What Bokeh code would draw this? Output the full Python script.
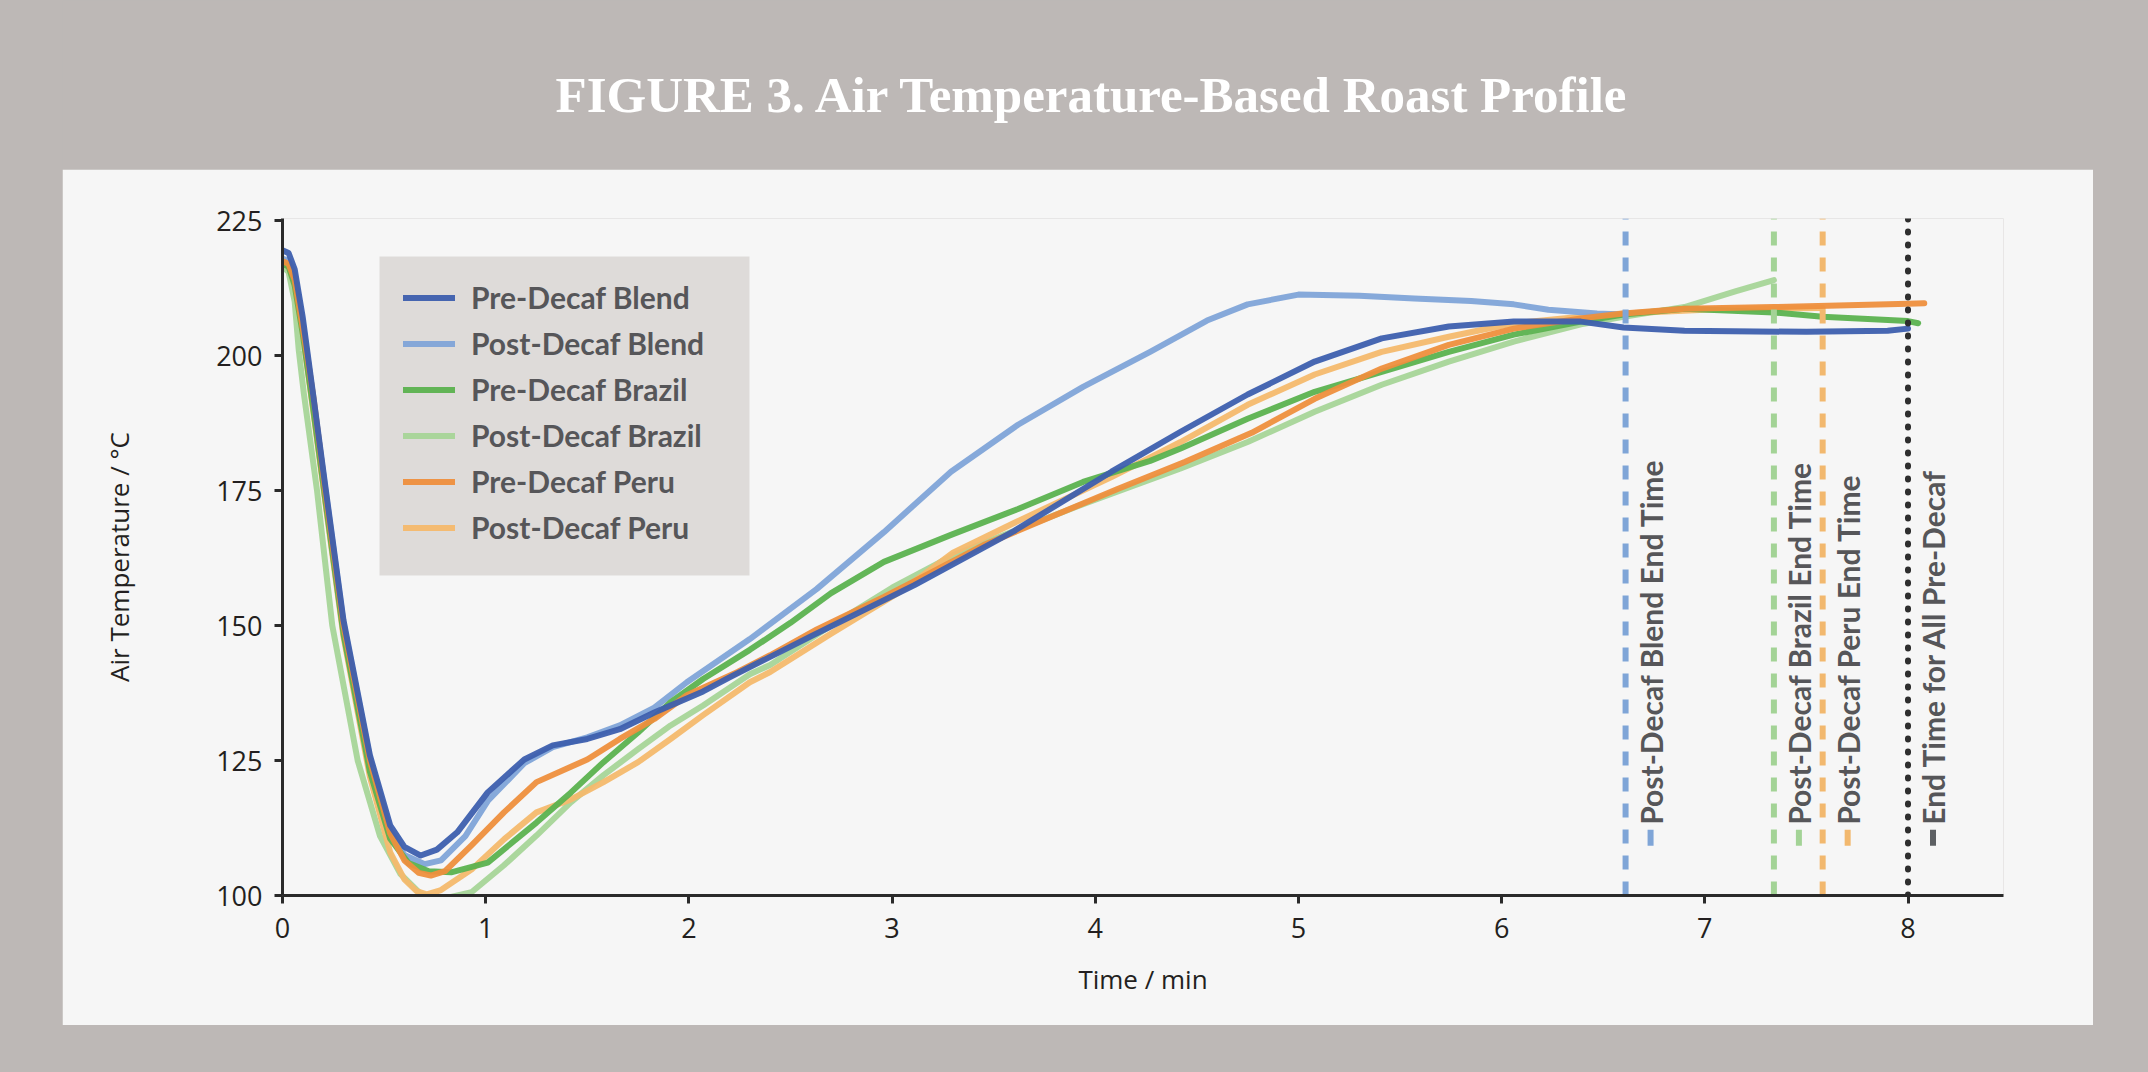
import math
from bokeh.plotting import figure
from bokeh.models import Range1d, FixedTicker, Legend, LegendItem
from bokeh.layouts import column
from bokeh.core.properties import value
from bokeh.embed import file_html
from bokeh.resources import INLINE

# ---------------- data ----------------
TITLE = "FIGURE 3. Air Temperature-Based Roast Profile"
X_LABEL = "Time / min"
Y_LABEL = "Air Temperature / °C"
X_TICKS = [0, 1, 2, 3, 4, 5, 6, 7, 8]
Y_TICKS = [100, 125, 150, 175, 200, 225]

PRE_BLEND_T = [0, 0.03, 0.06, 0.1, 0.15, 0.21, 0.3, 0.43, 0.53, 0.6, 0.68, 0.76, 0.86, 1.01, 1.19, 1.33,
               1.5, 1.66, 1.83, 2.07, 2.2, 2.6, 3.11, 3.6, 4.08, 4.42, 4.75, 5.08, 5.41, 5.74, 6.06, 6.39,
               6.6, 6.9, 7.5, 7.9, 8.0]
PRE_BLEND_V = [219.5, 219, 216, 207, 193, 176, 151, 126, 113, 109, 107.4, 108.5, 111.7, 119.1, 125.2, 127.8,
               129, 130.8, 133.9, 137.8, 140.4, 148, 157.5, 167.5, 178.5, 185.9, 192.8, 198.9, 203.2, 205.4,
               206.3, 206.3, 205.2, 204.6, 204.4, 204.6, 205]

POST_BLEND_T = [0, 0.03, 0.06, 0.1, 0.15, 0.21, 0.3, 0.43, 0.53, 0.6, 0.7, 0.78, 0.9, 1.01, 1.19, 1.33,
                1.5, 1.66, 1.83, 1.99, 2.3, 2.63, 2.96, 3.29, 3.62, 3.94, 4.27, 4.55, 4.75, 5.0, 5.3, 5.57,
                5.85, 6.06, 6.23, 6.47, 6.6]
POST_BLEND_V = [218, 217.5, 215, 206, 192.5, 175.5, 150.5, 125.5, 112, 107.5, 105.8, 106.5, 111, 117.5, 124.5,
                127.5, 129.3, 131.5, 134.8, 139.5, 147.5, 156.8, 167.3, 178.5, 187.2, 194.2, 200.7, 206.5,
                209.5, 211.3, 211.1, 210.6, 210.1, 209.5, 208.5, 207.8, 207.6]

PRE_BRAZIL_T = [0, 0.03, 0.06, 0.1, 0.15, 0.21, 0.3, 0.43, 0.53, 0.62, 0.72, 0.83, 1.01, 1.25, 1.42, 1.58,
                1.75, 1.91, 2.07, 2.3, 2.5, 2.7, 2.96, 3.29, 3.62, 3.94, 4.27, 4.42, 4.75, 5.08, 5.41, 5.74,
                6.06, 6.39, 6.6, 6.9, 7.34, 7.58, 8.0, 8.05]
PRE_BRAZIL_V = [217, 216.5, 213, 204, 190.5, 173.5, 148.5, 123, 110.5, 106, 104.5, 104.3, 106.1, 113.5, 119.1,
                124.7, 130.2, 135.8, 140.1, 145.5, 150.5, 156, 161.8, 166.8, 171.6, 176.6, 180.5, 182.8, 188.3,
                193.3, 197, 200.7, 203.9, 206.3, 207.6, 208.7, 208, 207.2, 206.4, 206]

POST_BRAZIL_T = [0, 0.03, 0.06, 0.08, 0.105, 0.17, 0.245, 0.37, 0.48, 0.58, 0.68, 0.78, 0.93, 1.09, 1.25,
                 1.42, 1.58, 1.75, 1.91, 2.07, 2.3, 2.4, 2.7, 3.0, 3.3, 3.6, 3.94, 4.42, 4.75, 5.08, 5.41,
                 5.74, 6.06, 6.39, 6.6, 6.9, 7.15, 7.34]
POST_BRAZIL_V = [216.5, 215.5, 210, 201, 193, 175, 150, 125, 111, 104, 100.3, 99.3, 100.6, 105.6, 111.1,
                 117.3, 122.3, 127.1, 131.5, 135.2, 141, 142.7, 150, 157, 163, 167.5, 172.5, 179.1, 184,
                 189.6, 194.6, 198.9, 202.6, 205.8, 207.2, 209, 211.9, 214]

PRE_PERU_T = [0, 0.03, 0.06, 0.1, 0.125, 0.155, 0.21, 0.3, 0.43, 0.53, 0.6, 0.67, 0.73, 0.8, 0.93, 1.09,
              1.25, 1.5, 1.66, 1.83, 1.99, 2.24, 2.4, 2.63, 2.96, 3.13, 3.45, 3.78, 4.11, 4.44, 4.77, 5.08,
              5.41, 5.74, 6.06, 6.39, 6.6, 6.9, 7.34, 8.0, 8.08]
PRE_PERU_V = [217.5, 217, 214, 205, 199, 191.5, 175, 150, 125, 111.5, 106.5, 104.2, 103.7, 104.5, 109.3,
              115.4, 121, 125.2, 129, 132.7, 137.1, 141.4, 144.5, 149.3, 155.3, 158.6, 164.9, 170.1, 175.3,
              180.3, 185.7, 192, 197.6, 202, 205, 206.9, 207.8, 208.7, 209, 209.6, 209.7]

POST_PERU_T = [0, 0.03, 0.06, 0.1, 0.15, 0.21, 0.3, 0.43, 0.53, 0.6, 0.66, 0.71, 0.78, 0.93, 1.09, 1.25,
               1.42, 1.58, 1.75, 1.91, 2.07, 2.3, 2.4, 2.7, 3.05, 3.3, 3.6, 4.08, 4.42, 4.75, 5.08, 5.41,
               5.74, 6.06, 6.39, 6.6, 7.0, 7.3, 7.58]
POST_PERU_V = [217, 216.5, 213, 204, 190, 173, 148, 122, 108, 103, 100.8, 100.2, 101, 104.8, 110.4, 115.4,
               117.8, 121, 124.7, 129, 133.4, 139.5, 141.4, 148.5, 156.5, 163.5, 169, 177.5, 184, 190.9,
               196.5, 200.7, 203.5, 206, 207.2, 207.8, 208.5, 208.7, 208.8]

SERIES_NAMES = ["Pre-Decaf Blend", "Post-Decaf Blend", "Pre-Decaf Brazil",
                "Post-Decaf Brazil", "Pre-Decaf Peru", "Post-Decaf Peru"]
SERIES_COLORS = ["#3d5fae", "#7fa4d8", "#5bb24f", "#a7d598", "#ee8f3d", "#f4b96d"]

END_TIMES = [6.61, 7.34, 7.58, 8.0]
END_LABELS = ["Post-Decaf Blend End Time", "Post-Decaf Brazil End Time",
              "Post-Decaf Peru End Time", "End Time for All Pre-Decaf"]
END_COLORS = ["#7fa5d7", "#a3d396", "#f2b86e", "#2e2e2e"]
END_MARK_COLORS = ["#7fa5d7", "#a3d396", "#f2b86e", "#5d6063"]
END_DASHES = ["14 12", "14 12", "14 12", "1 12"]
END_CAPS = ["butt", "butt", "butt", "round"]

# ---------------- style / layout constants ----------------
BG = "#bdb8b6"
PANEL = "#f6f6f6"
LEGEND_BG = "#dedbd9"
TEXT_DARK = "#231f20"
LABEL_GREY = "#565659"

TITLE_H = 169
PANEL_LEFT = 62
FIG_W, FIG_H = 2031, 856
B_LEFT, B_RIGHT, B_TOP, B_BOTTOM = 220, 90, 49, 130
X0, X1 = 0, 8.47
Y0, Y1 = 100, 225.4
FRAME_W = FIG_W - B_LEFT - B_RIGHT
FRAME_H = FIG_H - B_TOP - B_BOTTOM
PX_PER_X = FRAME_W / (X1 - X0)
PX_PER_Y = FRAME_H / (Y1 - Y0)
DX = 25 / PX_PER_X
LABEL_Y = 113.1
MARK_Y = 110.7
# legend box, in pixels from the frame's top-left corner: left, right, top, bottom
LEG_L, LEG_R, LEG_T, LEG_B = 97, 467, 38, 357
# title position in page pixels (left edge, baseline)
TITLE_X, TITLE_BASE = 555, 94

# ---------------- title figure (frame aligned with the main figure) ----------------
PAGE_FRAME_L = PANEL_LEFT + B_LEFT
PAGE_FRAME_R = PANEL_LEFT + FIG_W - B_RIGHT
tf = figure(width=FIG_W, height=TITLE_H,
            x_range=Range1d(PAGE_FRAME_L, PAGE_FRAME_R), y_range=Range1d(0, TITLE_H - B_TOP),
            x_axis_type=None, y_axis_type=None, toolbar_location=None, output_backend="svg",
            min_border_left=B_LEFT, min_border_right=B_RIGHT, min_border_top=B_TOP,
            min_border_bottom=0, background_fill_color=BG, border_fill_color=BG,
            outline_line_color=None, margin=(0, 0, 0, PANEL_LEFT))
tf.text(x=[TITLE_X], y=[TITLE_H - TITLE_BASE], text=[TITLE], text_font=value("Liberation Serif"),
        text_font_style="bold", text_font_size="51px", text_color="white",
        text_align="left", text_baseline="alphabetic")

# ---------------- main figure ----------------
p = figure(width=FIG_W, height=FIG_H, x_range=Range1d(X0, X1), y_range=Range1d(Y0, Y1),
           toolbar_location=None, output_backend="svg",
           min_border_left=B_LEFT, min_border_right=B_RIGHT, min_border_top=B_TOP,
           min_border_bottom=B_BOTTOM, background_fill_color=PANEL, border_fill_color=PANEL,
           outline_line_color=None, margin=(0, 0, 0, PANEL_LEFT))
p.grid.visible = False

for ax in (p.xaxis, p.yaxis):
    ax.axis_line_width = 3
    ax.axis_line_color = "#2a2a2a"
    ax.major_tick_line_width = 3
    ax.major_tick_line_color = "#2a2a2a"
    ax.major_tick_out = 8
    ax.major_tick_in = 0
    ax.minor_tick_line_color = None
    ax.major_label_text_font = "Open Sans"
    ax.major_label_text_font_size = "27px"
    ax.major_label_text_color = TEXT_DARK
    ax.axis_label_text_font = "Open Sans"
    ax.axis_label_text_font_size = "26px"
    ax.axis_label_text_font_style = "normal"
    ax.axis_label_text_color = TEXT_DARK

p.xaxis.ticker = FixedTicker(ticks=X_TICKS)
p.yaxis.ticker = FixedTicker(ticks=Y_TICKS)
p.xaxis.axis_label = X_LABEL
p.yaxis.axis_label = Y_LABEL
p.xaxis.major_label_standoff = 14
p.yaxis.major_label_standoff = 12
p.xaxis.axis_label_standoff = 20
p.yaxis.axis_label_standoff = 76

# legend background panel
p.quad(left=[X0 + LEG_L / PX_PER_X], right=[X0 + LEG_R / PX_PER_X],
       top=[Y1 - LEG_T / PX_PER_Y], bottom=[Y1 - LEG_B / PX_PER_Y],
       fill_color=LEGEND_BG, line_color=None)

series = {
    "Pre-Decaf Blend": (PRE_BLEND_T, PRE_BLEND_V),
    "Post-Decaf Blend": (POST_BLEND_T, POST_BLEND_V),
    "Pre-Decaf Brazil": (PRE_BRAZIL_T, PRE_BRAZIL_V),
    "Post-Decaf Brazil": (POST_BRAZIL_T, POST_BRAZIL_V),
    "Pre-Decaf Peru": (PRE_PERU_T, PRE_PERU_V),
    "Post-Decaf Peru": (POST_PERU_T, POST_PERU_V),
}
color_of = dict(zip(SERIES_NAMES, SERIES_COLORS))
draw_order = ["Post-Decaf Brazil", "Post-Decaf Peru", "Post-Decaf Blend",
              "Pre-Decaf Brazil", "Pre-Decaf Peru", "Pre-Decaf Blend"]
renderers = {}
for name in draw_order:
    t, v = series[name]
    renderers[name] = p.line(t, v, line_color=color_of[name], line_width=6, line_alpha=0.95,
                             line_join="round", line_cap="round")

# end-time markers
for t_end, col, dash, cap in zip(END_TIMES, END_COLORS, END_DASHES, END_CAPS):
    p.segment(x0=[t_end], y0=[Y0], x1=[t_end], y1=[Y1], line_color=col, line_width=6,
              line_dash=dash, line_cap=cap)

p.text(x=[t + DX for t in END_TIMES], y=[LABEL_Y] * len(END_TIMES), text=END_LABELS,
       angle=math.pi / 2, text_align="left", text_baseline="middle",
       text_font=value("Lato"), text_font_style="bold", text_font_size="30px", text_color=LABEL_GREY)
p.rect(x=[t + DX for t in END_TIMES], y=[MARK_Y] * len(END_TIMES), width=6, height=16,
       width_units="screen", height_units="screen", fill_color=END_MARK_COLORS,
       line_color=None)

legend = Legend(items=[LegendItem(label=n, renderers=[renderers[n]]) for n in SERIES_NAMES],
                location=(121, 350), orientation="vertical",
                background_fill_alpha=0.0, border_line_color=None, padding=0, spacing=10, margin=0,
                glyph_width=52, glyph_height=35, label_height=35, label_width=246,
                label_standoff=16, label_text_font="Lato", label_text_font_style="bold",
                label_text_font_size="30px", label_text_color=LABEL_GREY)
p.add_layout(legend)

layout = column(tf, p, spacing=0)

html = file_html(layout, INLINE, title="Air Temperature-Based Roast Profile")
html = html.replace("</head>", "<style>html,body{background:%s;}</style></head>" % BG, 1)
open("out.html", "w").write(html)
